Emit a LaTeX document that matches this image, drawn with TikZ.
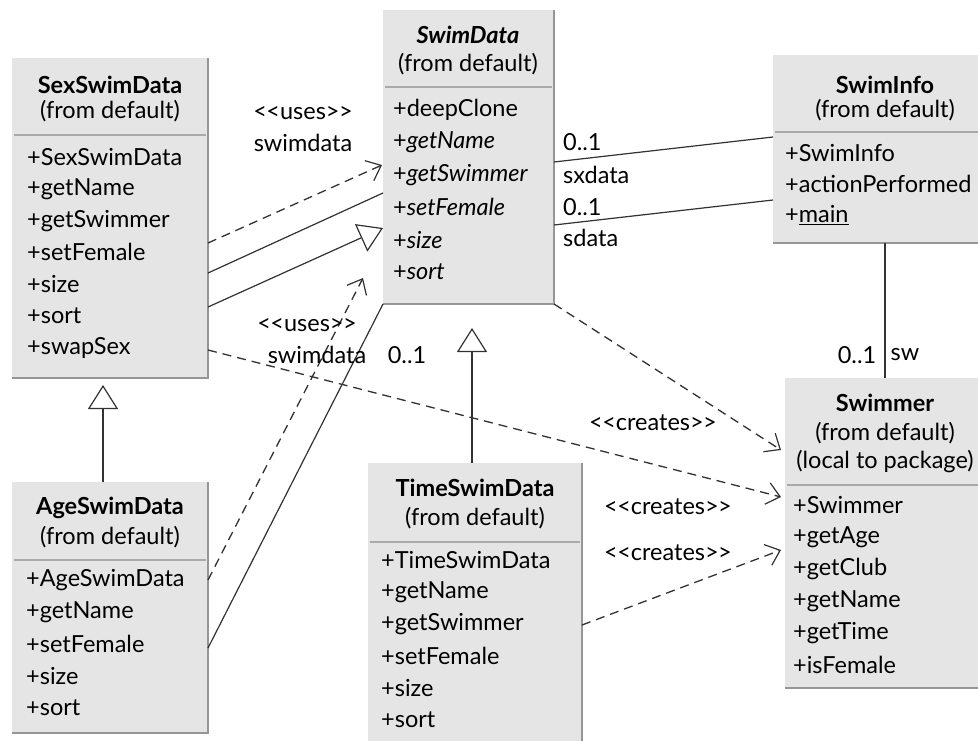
\documentclass[tikz,border=0pt]{standalone}
\usepackage{fontspec}
\setmainfont{Lato}
\usetikzlibrary{arrows.meta,calc}
\definecolor{boxfill}{RGB}{229,229,229}
\definecolor{boxline}{RGB}{150,150,150}
\definecolor{sepline}{RGB}{170,170,170}
\definecolor{ink}{RGB}{35,35,35}
\definecolor{wire}{RGB}{50,50,50}
\newcommand\dfs{\fontsize{23.5}{28}\selectfont}
\newcommand\stOpen{<\kern-0.5pt<}
\newcommand\stClose{>\kern-0.5pt>}
\tikzset{
  box/.style={fill=boxfill, inner sep=0pt, outer sep=0pt, anchor=north west},
  edge/.style={draw=boxline, line width=2pt},
  sepl/.style={draw=sepline, line width=1.2pt},
  ttl/.style={font=\dfs\bfseries, inner sep=0pt, anchor=center},
  sub/.style={font=\dfs, inner sep=0pt, anchor=center},
  itm/.style={font=\dfs, inner sep=0pt, anchor=west},
  lbl/.style={font=\dfs, inner sep=0pt, anchor=center},
  lbll/.style={font=\dfs, inner sep=0pt, anchor=west},
  dep/.style={draw=wire, line width=1.3pt, dash pattern=on 9pt off 6pt,
    -{Straight Barb[length=13pt,width=22pt,line width=1.2pt]}},
  assoc/.style={draw=wire, line width=1.2pt},
  gen/.style={draw=wire, line width=1.2pt,
    -{Triangle[open,length=24pt,width=30pt,line width=1.2pt,fill=white]}}
}
\begin{document}
\begin{tikzpicture}[x=1pt,y=-1pt,font=\dfs\color{ink}]
\useasboundingbox (0,0) rectangle (978,740);
\fill[white] (0,0) rectangle (978,740);
\clip (0,0) rectangle (978,740);

% ---------- boxes ----------
\node[box, minimum width=196pt, minimum height=320pt] (sex) at (12,58) {};
\node[box, minimum width=196pt, minimum height=251pt] (age) at (12,482) {};
\node[box, minimum width=171pt, minimum height=294pt] (swd) at (383,10) {};
\node[box, minimum width=214pt, minimum height=290pt] (tsd) at (368,463) {};
\node[box, minimum width=220pt, minimum height=188pt] (info) at (773,55) {};
\node[box, minimum width=215pt, minimum height=310pt] (swm) at (785,378) {};
\foreach \b in {sex,age,swd,tsd,info,swm}
  \draw[edge] (\b.north east) -- (\b.south east) -- (\b.south west);

% separators
\draw[sepl] ($(sex.north west)+(2,77)$) -- ($(sex.north east)+(-2,77)$);
\draw[sepl] ($(age.north west)+(2,78)$) -- ($(age.north east)+(-2,78)$);
\draw[sepl] ($(swd.north west)+(2,77)$) -- ($(swd.north east)+(-2,77)$);
\draw[sepl] ($(tsd.north west)+(2,79)$) -- ($(tsd.north east)+(-2,79)$);
\draw[sepl] ($(info.north west)+(2,77)$) -- ($(info.north east)+(-2,77)$);
\draw[sepl] ($(swm.north west)+(2,107)$) -- ($(swm.north east)+(-2,107)$);

% ---------- SexSwimData ----------
\node[ttl] (sex-t) at (110,85) {SexSwimData};
\node[sub] (sex-s) at (110,111) {(from default)};
\foreach \t [count=\i] in {+SexSwimData,+getName,+getSwimmer,+setFemale,+size,+sort,+swapSex}
  \node[itm] (sex-\i) at (27,{157+31.8*(\i-1)}) {\t};

% ---------- AgeSwimData ----------
\node[ttl] (age-t) at (110,508) {AgeSwimData};
\node[sub] (age-s) at (110,537) {(from default)};
\foreach \t [count=\i] in {+AgeSwimData,+getName,+setFemale,+size,+sort}
  \node[itm] (age-\i) at (26,{580+32*(\i-1)}) {\t};

% ---------- SwimData ----------
\node[ttl] (swd-t) at (468,35) {\textit{SwimData}};
\node[sub] (swd-s) at (468,64) {(from default)};
\node[itm] (swd-1) at (393,110) {+deepClone};
\foreach \t [count=\i from 2] in {getName,getSwimmer,setFemale,size,sort}
  \node[itm] (swd-\i) at (393,{110+32.4*(\i-1)}) {+\textit{\t}};

% ---------- TimeSwimData ----------
\node[ttl] (tsd-t) at (475,488) {TimeSwimData};
\node[sub] (tsd-s) at (475,518) {(from default)};
\foreach \t [count=\i] in {+TimeSwimData,+getName,+getSwimmer,+setFemale,+size,+sort}
  \node[itm] (tsd-\i) at (381,{560+32*(\i-1)}) {\t};

% ---------- SwimInfo ----------
\node[ttl] (info-t) at (885,85) {SwimInfo};
\node[sub] (info-s) at (885,110) {(from default)};
\node[itm] (info-1) at (785,153) {+SwimInfo};
\node[itm] (info-2) at (785,184) {+actionPerformed};
\node[itm] (info-3) at (785,215) {+\underline{main}};

% ---------- Swimmer ----------
\node[ttl] (swm-t) at (885,403) {Swimmer};
\node[sub] (swm-s) at (885,433) {(from default)};
\node[sub] (swm-l) at (885,462) {(local to package)};
\foreach \t [count=\i] in {+Swimmer,+getAge,+getClub,+getName,+getTime,+isFemale}
  \node[itm] (swm-\i) at (793,{505+32*(\i-1)}) {\t};

% ---------- connectors ----------
\draw[dep]   ($(sex.north east)+(0,185)$) -- ($(swd.north west)+(-1,155)$);
\draw[assoc] ($(sex.north east)+(0,215)$) -- ($(swd.north west)+(0,183)$);
\draw[gen]   ($(sex.north east)+(0,249)$) -- ($(swd.north west)+(0,218)$);
\draw[dep]   ($(sex.north east)+(0,292)$) -- ($(swm.north west)+(-4,119)$);
\draw[gen]   ($(age.north west)+(91,0)$) -- ($(sex.south west)+(91,7)$);
\draw[dep]   ($(age.north east)+(0,98)$) -- ($(swd.south west)+(-20,-26)$);
\draw[assoc] ($(age.north east)+(0,166)$) -- (swd.south west);
\draw[gen]   ($(tsd.north west)+(104,0)$) -- ($(swd.south west)+(89,24)$);
\draw[dep]   ($(tsd.north east)+(0,162)$) -- ($(swm.north west)+(-4,172)$);
\draw[dep]   (swd.south east) -- ($(swm.north west)+(-4,72)$);
\draw[assoc] ($(swd.north east)+(0,152)$) -- ($(info.north west)+(0,82)$);
\draw[assoc] ($(swd.north east)+(0,215)$) -- ($(info.north west)+(0,145)$);
\draw[assoc] ($(info.south west)+(112,0)$) -- ($(swm.north west)+(100,0)$);

% ---------- labels ----------
\node[lbl] (l-uses1) at (303,113) {\stOpen uses\stClose};
\node[lbl] (l-sw1) at (303,143) {swimdata};
\node[lbl] (l-uses2) at (307,325) {\stOpen uses\stClose};
\node[lbl] (l-sw2) at (317,355) {swimdata};
\node[lbl] (l-m1) at (407,355) {0..1};
\node[lbll] (l-m2) at (563,142) {0..1};
\node[lbll] (l-sx) at (563,175) {sxdata};
\node[lbll] (l-m3) at (563,207) {0..1};
\node[lbll] (l-sd) at (563,238) {sdata};
\node[lbl] (l-m4) at (857,355) {0..1};
\node[lbl] (l-swv) at (905,355) {sw};
\node[lbl] (l-c1) at (653,423) {\stOpen creates\stClose};
\node[lbl] (l-c2) at (668,507) {\stOpen creates\stClose};
\node[lbl] (l-c3) at (668,553) {\stOpen creates\stClose};
\end{tikzpicture}
\end{document}
